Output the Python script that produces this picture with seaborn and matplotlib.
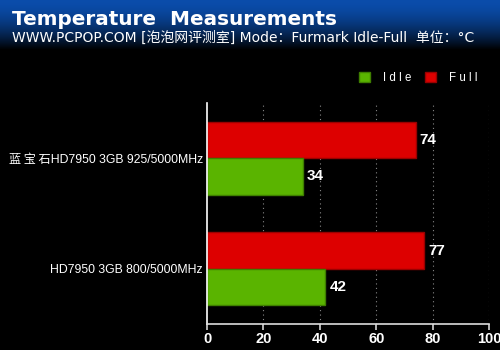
import numpy as np
import pandas as pd
import matplotlib
matplotlib.use("Agg")
import matplotlib.pyplot as plt
import seaborn as sns
from matplotlib.patches import Patch

categories = ["蓝\u2009宝\u2009石HD7950 3GB 925/5000MHz", "HD7950 3GB 800/5000MHz"]
idle_values = [34, 42]
full_values = [74, 77]
series = ["Idle", "Full"]
xticks = [0, 20, 40, 60, 80, 100]

sns.set_theme(style="dark")
plt.rcParams['font.family'] = ['Liberation Sans', 'Noto Sans CJK SC', 'DejaVu Sans']

df = pd.DataFrame({
    "category": categories * 2,
    "series": ["Idle"] * len(categories) + ["Full"] * len(categories),
    "value": idle_values + full_values,
})

colors = {"Idle": "#5ab400", "Full": "#dd0000"}
edges = {"Idle": "#3f7f00", "Full": "#9a0000"}

fig = plt.figure(figsize=(5, 3.5), dpi=100, facecolor="black")

# header gradient
hax = fig.add_axes([0, 1 - 50 / 350, 1, 50 / 350])
grad = np.linspace(0, 1, 100)[:, None]
top = np.array([0.04, 0.30, 0.67])
bot = np.array([0.0, 0.0, 0.0])
t = np.clip(grad, 0, 1) ** 1.7
img = top[None, None, :] * (1 - t[..., None]) + bot[None, None, :] * t[..., None]
img = np.repeat(img, 10, axis=1)
hax.imshow(img, aspect="auto", extent=[0, 1, 0, 1], origin="upper")
hax.set_axis_off()

fig.text(12 / 500, 1 - 25 / 350, "Temperature  Measurements", color="white",
         fontsize=14.4, fontweight="bold", va="baseline", ha="left",
         family=['DejaVu Sans'])
fig.text(12 / 500, 1 - 38 / 350,
         "WWW.PCPOP.COM [泡泡网评测室] Mode：Furmark Idle-Full  单位：°C",
         color="white", fontsize=10, va="center", ha="left",
         family=['DejaVu Sans', 'Noto Sans CJK SC'])

ax = fig.add_axes([207 / 500, 1 - 324 / 350, (489 - 207) / 500, (324 - 103) / 350])
ax.set_facecolor("black")
sns.barplot(data=df, y="category", x="value", hue="series", hue_order=["Full", "Idle"],
            palette=colors, orient="h", width=0.66, ax=ax, legend=False,
            linewidth=1, saturation=1)
for cont, name in zip(ax.containers, ["Full", "Idle"]):
    for bar in cont:
        bar.set_edgecolor(edges[name])
    ax.bar_label(cont, labels=[f"{v:g}" for v in cont.datavalues], padding=3,
                 color="white", fontsize=11, fontweight="bold")

ax.set_xlim(0, 100)
ax.set_ylim(1.5, -0.5)
ax.set_xticks(xticks)
ax.set_xticklabels([str(v) for v in xticks], color="white", fontsize=10.5, fontweight="bold")
ax.set_yticks([-0.5, 0.5, 1.5], minor=False)
ax.set_yticklabels([])
ax.set_yticks([0, 1], minor=True)
ax.set_yticklabels(categories, minor=True, color="white", fontsize=8.8)
ax.tick_params(axis="y", which="minor", length=0, pad=3)
ax.tick_params(axis="y", which="major", length=3, color="white", direction="out")
ax.tick_params(axis="x", length=4, color="#cccccc", pad=2, bottom=True)
ax.set_xlabel("")
ax.set_ylabel("")
ax.grid(False)
for x in xticks[1:]:
    ax.axvline(x, color="#888888", linestyle=(0, (1, 3)), linewidth=0.8, zorder=0)
for s in ["top", "right"]:
    ax.spines[s].set_visible(False)
ax.spines["left"].set_color("white")
ax.spines["bottom"].set_color("#dddddd")
ax.spines["left"].set_linewidth(1.2)
ax.spines["bottom"].set_linewidth(1.2)

handles = [Patch(facecolor=colors[s], edgecolor=edges[s]) for s in series]
leg = fig.legend(handles, ["I d l e", "F u l l"], loc="center left",
                 bbox_to_anchor=(356 / 500, 1 - 78 / 350), ncol=2, frameon=False,
                 handlelength=0.95, handleheight=0.95, handletextpad=1.1, columnspacing=1.2,
                 fontsize=8.3, borderaxespad=0, borderpad=0.3)
for txt in leg.get_texts():
    txt.set_color("white")

fig.savefig("out.png", dpi=100, facecolor="black")
